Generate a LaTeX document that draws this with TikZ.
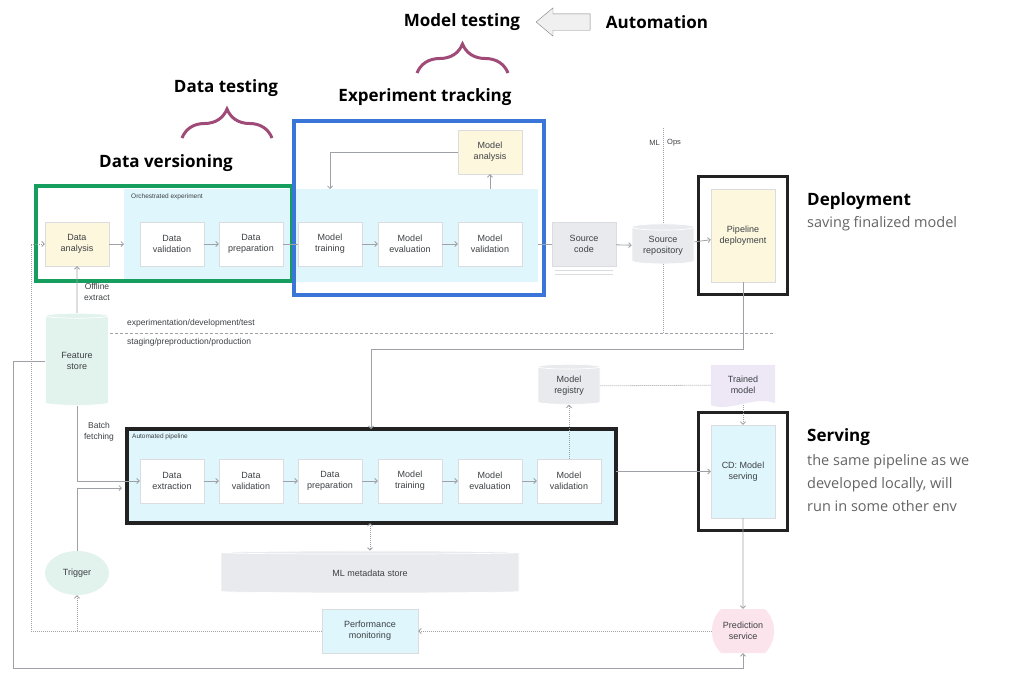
\documentclass[tikz,border=0pt]{standalone}
\usepackage{fontspec}
\setmainfont{Open Sans}
\newfontfamily\boxfont{Liberation Sans}
\usepackage{tikz}
\usetikzlibrary{arrows.meta}
\usetikzlibrary{positioning, backgrounds, fit}
\usetikzlibrary{shapes.geometric, shapes.misc, shapes.arrows, decorations.pathreplacing}
\definecolor{mycyan}{RGB}{223,246,252}
\definecolor{myyellow}{RGB}{253,247,222}
\definecolor{mygraybox}{RGB}{232,234,237}
\definecolor{mymint}{RGB}{226,242,236}
\definecolor{mylavender}{RGB}{237,231,246}
\definecolor{mypink}{RGB}{252,228,236}
\definecolor{boxline}{RGB}{218,220,224}
\definecolor{linegray}{RGB}{158,162,166}
\definecolor{boxtext}{RGB}{60,64,67}
\definecolor{descgray}{RGB}{100,100,100}
\definecolor{myframegreen}{RGB}{22,158,94}
\definecolor{myframeblue}{RGB}{58,118,216}
\definecolor{myblack}{RGB}{34,34,34}
\definecolor{bracecol}{RGB}{160,74,120}
\tikzset{
  >=latex, % default arrow head
  box/.style={draw=boxline,fill=white,minimum width=64,minimum height=44,inner sep=1,
    align=center,text=boxtext,font=\boxfont\fontsize{9}{11}\selectfont},
  box yellow/.style={box,fill=myyellow},
  box gray/.style={box,fill=mygraybox},
  box cyan/.style={box,fill=mycyan},
  store/.style={cylinder,shape border rotate=90,aspect=0.15,draw=white,line width=0.7,
    inner sep=1,align=center,text=boxtext,font=\boxfont\fontsize{9}{11}\selectfont},
  store gray/.style={store,fill=mygraybox},
  store mint/.style={store,fill=mymint},
  trigger/.style={ellipse,fill=mymint,minimum width=64,minimum height=44,inner sep=1,
    text=boxtext,font=\boxfont\fontsize{9}{11}\selectfont},
  predict/.style={rounded rectangle,rounded rectangle arc length=90,fill=mypink,
    minimum width=64,minimum height=44,inner sep=1,align=center,text=boxtext,
    font=\boxfont\fontsize{9}{11}\selectfont},
  region/.style={fill=mycyan,inner sep=0,outer sep=0},
  region label/.style={inner sep=0,text=boxtext,font=\boxfont\fontsize{6.5}{7}\selectfont},
  small label/.style={inner sep=1,align=center,text=boxtext,font=\boxfont\fontsize{8.5}{11}\selectfont},
  hilite/.style={line width=3.2},
  heading/.style={inner sep=0,font=\bfseries\fontsize{17}{20}\selectfont},
  desc/.style={inner sep=0,align=left,text=descgray,font=\fontsize{14.5}{23}\selectfont},
  curly/.style={decorate,decoration={brace,amplitude=29},draw=bracecol,line width=3},
  hollow arrow/.style={single arrow,draw=gray,fill=gray!12,shape border rotate=180,
    minimum height=54,inner xsep=0,inner ysep=8,single arrow head extend=6,
    single arrow tip angle=80},
  connect/.style={linegray,line width=0.8},
  connect arrow/.style={-{Straight Barb[length=2.5,width=5]},linegray,line width=0.8},
  dotted arrow/.style={connect arrow,dash pattern=on 1pt off 1pt},
  dotted both/.style={{Straight Barb[length=2.5,width=5]}-{Straight Barb[length=2.5,width=5]},
    linegray,line width=0.8,dash pattern=on 1pt off 1pt},
  dotted line/.style={linegray,line width=0.8,dash pattern=on 1pt off 1pt},
  env line/.style={linegray,line width=0.8,dash pattern=on 3pt off 2pt}
}

\begin{document}
\begin{tikzpicture}[x=1pt,y=-1pt]
    \useasboundingbox (0,0) rectangle (1010,680);

    % Annotations on top
    \node[heading] (mtest) at (462,22) {Model testing};
    \node[hollow arrow] (autoarr) at (568,22) {};
    \node[heading] (autom) at (657,22) {Automation};
    \node[heading] (dtest) at (226,88) {Data testing};
    \node[heading] (etrack) at (425,97) {Experiment tracking};
    \node[heading] (dvers) at (166,163) {Data versioning};
    \draw[curly] (417,73) -- (508,73);
    \draw[curly] (182,138) -- (272,138);

    % Regions
    \node[region,minimum width=414,minimum height=93] (orch) at (331,235.5) {};
    \node[region label,anchor=north west] (orchl) at ([xshift=7,yshift=-5]orch.north west) {Orchestrated experiment};
    \node[region,draw=myblack,line width=3.5,minimum width=489,minimum height=94] (auto) at (371.5,476) {};
    \node[region label,anchor=north west] (autol) at ([xshift=5,yshift=-5]auto.north west) {Automated pipeline};
    \draw[hilite,draw=myframegreen] (36,186) rectangle (292,281);
    \draw[hilite,draw=myframeblue] (294,121) rectangle (544,295);

    % Environment split
    \coordinate (mltop) at (663,128);
    \coordinate (mlbot) at (663,333);
    \coordinate (envl) at (110,333);
    \coordinate (envr) at (775,333);
    \draw[env line] (envl) -- (envr);
    \draw[dotted line] (mltop) -- (mlbot);
    \node[region label,font=\boxfont\fontsize{7.5}{8}\selectfont,anchor=east] (ml) at (660,143) {ML};
    \node[region label,font=\boxfont\fontsize{7.5}{8}\selectfont,anchor=west] (ops) at (667,143) {Ops};
    \node[small label,anchor=west] (exp) at (126,323) {experimentation/development/test};
    \node[small label,anchor=west] (stg) at (126,342) {staging/preproduction/production};

    % Experiment row
    \node[box yellow] (da) at (77,244) {Data\\analysis};
    \node[box] (dv) at (172,244) {Data\\validation};
    \node[box] (dp) at (251,244) {Data\\preparation};
    \node[box] (mt) at (330,244) {Model\\training};
    \node[box] (me) at (410,244) {Model\\evaluation};
    \node[box] (mv) at (490,244) {Model\\validation};
    \node[box yellow] (ma) at (490,152) {Model\\analysis};
    \node[box gray] (sc) at (584,244) {Source\\code};
    \draw[boxline,line width=0.8] ([xshift=3,yshift=-4]sc.south west) -- ([xshift=-3,yshift=-4]sc.south east);
    \draw[boxline,line width=0.8] ([xshift=3,yshift=-8]sc.south west) -- ([xshift=-3,yshift=-8]sc.south east);
    \node[store gray,minimum width=62,minimum height=40] (sr) at (663,246) {Source\\repository};
    \node[box yellow,minimum height=93] (pd) at (743,235.5) {Pipeline\\deployment};
    \node[hilite,draw=myblack,fit=(pd),inner sep=12] (pdf) {};

    \draw[connect arrow] (da) -- (orch.west |- da);
    \draw[connect arrow] (dv) -- (dp);
    \draw[connect] (dp) -- (mt);
    \draw[connect arrow] (mt) -- (me);
    \draw[connect arrow] (me) -- (mv);
    \draw[connect] (orch.east |- mv) -- (sc);
    \draw[connect arrow] (sc) -- (sr);
    \draw[connect arrow] (sr) -- (pd);
    \draw[connect arrow] (mv.north |- orch.north) -- (ma);
    \draw[connect arrow] (ma.west) -| (mt.north |- orch.north);

    % Stores and trigger
    \node[store mint,minimum width=63,minimum height=92] (fs) at (77,361) {Feature\\store};
    \node[small label] (offl) at (97,292) {Offline\\extract};
    \node[small label] (batch) at (99,432) {Batch\\fetching};
    \node[trigger] (tr) at (77,573) {Trigger};

    % Automated pipeline row
    \node[box] (dx) at (172,481) {Data\\extraction};
    \node[box] (dv2) at (251,481) {Data\\validation};
    \node[box] (dp2) at (330,481) {Data\\preparation};
    \node[box] (mt2) at (410,481) {Model\\training};
    \node[box] (me2) at (490,481) {Model\\evaluation};
    \node[box] (mv2) at (569,481) {Model\\validation};
    \draw[connect arrow] (dx) -- (dv2);
    \draw[connect arrow] (dv2) -- (dp2);
    \draw[connect arrow] (dp2) -- (mt2);
    \draw[connect arrow] (mt2) -- (me2);
    \draw[connect arrow] (me2) -- (mv2);

    % Serving side
    \node[store gray,minimum width=62,minimum height=40] (mr) at (569,386) {Model\\registry};
    \node[inner sep=1,minimum width=64,minimum height=40,align=center,text=boxtext,
      font=\boxfont\fontsize{9}{11}\selectfont] (tm) at (743,385) {Trained\\model};
    \begin{pgfonlayer}{background}
      \fill[mylavender] (tm.north west) -- (tm.north east) -- ([yshift=2]tm.south east)
        .. controls ([xshift=-21,yshift=10]tm.south east) and ([xshift=21,yshift=-7]tm.south west) .. (tm.south west) -- cycle;
    \end{pgfonlayer}
    \node[box cyan,minimum height=93] (cd) at (743,471.5) {CD: Model\\serving};
    \node[hilite,draw=myblack,fit=(cd),inner sep=12] (cdf) {};
    \node[store gray,minimum width=298,minimum height=42,aspect=0.04] (mm) at (370,573) {ML metadata store};
    \node[box cyan,minimum width=96] (pm) at (370,631) {Performance\\monitoring};
    \node[predict] (ps) at (743,631) {Prediction\\service};

    % Connectors
    \coordinate (pdc) at (371,349);
    \coordinate (trin) at (122,488);
    \coordinate (loopc) at (13,668);
    \coordinate (dotc) at (31,244);
    \draw[connect arrow] (fs) -- (da);
    \draw[connect arrow] (fs.south) |- (dx.west);
    \draw[connect arrow] (tr.north) |- (trin);
    \draw[connect arrow] (fs.west) -| (loopc) -| (ps.south);
    \draw[dotted arrow] (pm.west) -| (dotc) -- (da.west);
    \draw[dotted arrow] (tr.south |- pm.west) -- (tr.south);
    \draw[connect arrow] (pd.south) |- (pdc) -- (pdc |- auto.north);
    \draw[connect arrow] (auto.east |- cd) -- (cd);
    \draw[dotted arrow] (tm) -- (cd);
    \draw[dotted line] (mr) -- (tm);
    \draw[dotted arrow] (mv2) -- (mr);
    \draw[dotted both] (auto.south -| mm) -- (mm.north);
    \draw[dotted arrow] (ps) -- (pm);
    \draw[connect arrow] (cd) -- (ps);

    % Notes on the right
    \node[heading,anchor=west] (depl) at (807,201) {Deployment};
    \node[desc,anchor=west] (depld) at (807,224) {saving finalized model};
    \node[heading,anchor=west] (serv) at (807,437) {Serving};
    \node[desc,anchor=north west] (servd) at (807,454) {the same pipeline as we\\developed locally, will\\run in some other env};
\end{tikzpicture}
\end{document}
